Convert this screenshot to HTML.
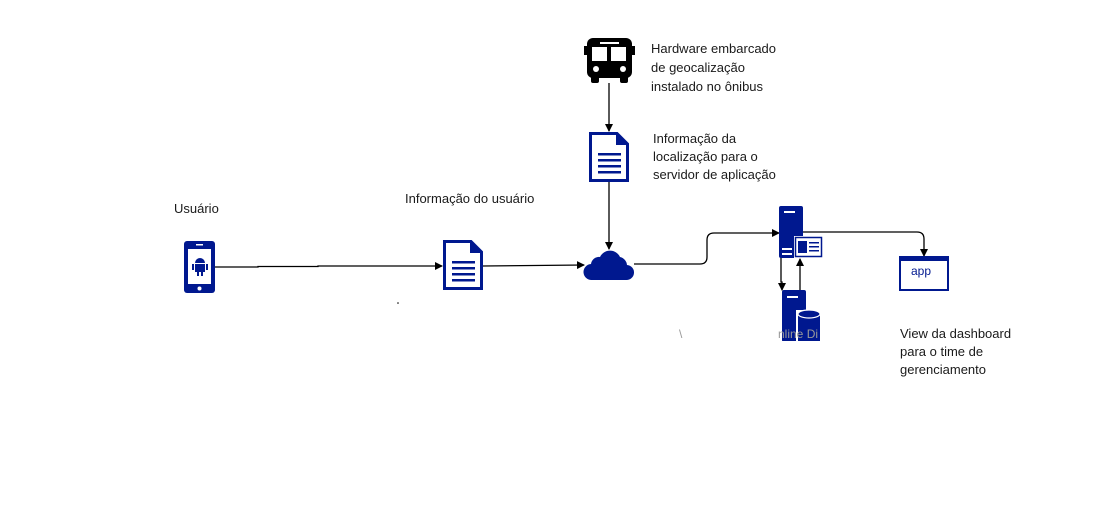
<!DOCTYPE html>
<html><head><meta charset="utf-8"><style>
html,body{margin:0;padding:0;background:#fff;}
svg{display:block;}
text{font-family:"Liberation Sans",sans-serif;font-size:13px;fill:#1a1a1a;}
</style></head><body>
<svg width="1105" height="509" viewBox="0 0 1105 509" xmlns="http://www.w3.org/2000/svg">
<defs>
<marker id="a" markerWidth="8" markerHeight="8" refX="7" refY="4" orient="auto" markerUnits="userSpaceOnUse"><path d="M0,0 L8,4 L0,8 Z" fill="#000"/></marker>
</defs>
<!-- connectors -->
<g stroke="#000" stroke-width="1.3" fill="none">
<path d="M215,267 L258,267 L258,266.5 L318,266.5 L318,266 L442,266" marker-end="url(#a)"/>
<path d="M483,266 L584,265" marker-end="url(#a)"/>
<path d="M609,83 L609,131" marker-end="url(#a)"/>
<path d="M609,182 L609,249" marker-end="url(#a)"/>
<path d="M634,264 L700,264 Q707,264 707,257 L707,240 Q707,233 714,233 L779,233" marker-end="url(#a)"/>
<path d="M803,232 L917,232 Q924,232 924,239 L924,256" marker-end="url(#a)"/>
<path d="M781,257 L781,282 L782,282 L782,290" marker-end="url(#a)"/>
<path d="M800,290 L800,259" marker-end="url(#a)"/>
</g>
<circle cx="398" cy="303" r="0.8" fill="#000"/>
<!-- phone -->
<rect x="184" y="241" width="31" height="52" rx="3" fill="#00188f"/>
<rect x="188" y="249" width="23" height="35" fill="#fff"/>
<rect x="196" y="244" width="7" height="1.5" fill="#fff"/>
<circle cx="199.5" cy="288.5" r="2" fill="#fff"/>
<path d="M195,263 a5,5 0 0 1 10,0 Z" fill="#00188f"/>
<rect x="195" y="264" width="10" height="8" fill="#00188f"/>
<rect x="192" y="264" width="2" height="6" fill="#00188f"/>
<rect x="206" y="264" width="2" height="6" fill="#00188f"/>
<rect x="197" y="272" width="2" height="4" fill="#00188f"/>
<rect x="201" y="272" width="2" height="4" fill="#00188f"/>
<!-- doc 1 -->
<g transform="translate(443,240)">
<path d="M1.5,1.5 L28,1.5 L38.5,12 L38.5,48.5 L1.5,48.5 Z" fill="#fff" stroke="#00188f" stroke-width="3"/>
<path d="M27,1.5 L39,13 L27,13 Z" fill="#00188f"/>
<g fill="#00188f"><rect x="9" y="21" width="23" height="2.5"/><rect x="9" y="27" width="23" height="2.5"/><rect x="9" y="33" width="23" height="2.5"/><rect x="9" y="39" width="23" height="2.5"/></g>
</g>
<!-- doc 2 -->
<g transform="translate(589,132)">
<path d="M1.5,1.5 L28,1.5 L38.5,12 L38.5,48.5 L1.5,48.5 Z" fill="#fff" stroke="#00188f" stroke-width="3"/>
<path d="M27,1.5 L39,13 L27,13 Z" fill="#00188f"/>
<g fill="#00188f"><rect x="9" y="21" width="23" height="2.5"/><rect x="9" y="27" width="23" height="2.5"/><rect x="9" y="33" width="23" height="2.5"/><rect x="9" y="39" width="23" height="2.5"/></g>
</g>
<!-- bus -->
<g fill="#000">
<rect x="587" y="38" width="45" height="40" rx="6"/>
<rect x="584" y="46" width="3" height="9"/><rect x="632" y="46" width="3" height="9"/>
<rect x="591" y="74" width="8" height="9" rx="2"/><rect x="620" y="74" width="8" height="9" rx="2"/>
</g>
<g fill="#fff">
<rect x="600" y="42" width="19" height="2"/>
<rect x="592" y="47" width="15" height="14"/><rect x="611" y="47" width="15" height="14"/>
<circle cx="596" cy="69" r="3"/><circle cx="623" cy="69" r="3"/>
</g>
<!-- cloud -->
<path d="M592,280 a8,8 0 0 1 -1,-16 a8,8 0 0 1 9,-7 a11,11 0 0 1 20,0 a9,9 0 0 1 7,8 a7.5,7.5 0 0 1 -1,15 Z" fill="#00188f"/>
<!-- server -->
<rect x="779" y="206" width="24" height="52" rx="2" fill="#00188f"/>
<rect x="784" y="211" width="11" height="2" fill="#fff"/>
<rect x="782" y="248" width="10" height="2" fill="#fff"/>
<rect x="782" y="253" width="10" height="2" fill="#fff"/>
<rect x="794" y="236" width="29" height="22" fill="#fff"/>
<rect x="795.5" y="237.5" width="26" height="19" fill="none" stroke="#00188f" stroke-width="1.5"/>
<rect x="798" y="241" width="9" height="12" fill="#00188f"/>
<rect x="809" y="242" width="10" height="1.5" fill="#00188f"/>
<rect x="809" y="246" width="10" height="1.5" fill="#00188f"/>
<rect x="809" y="250" width="10" height="1.5" fill="#00188f"/>
<!-- db server -->
<rect x="782" y="290" width="24" height="52" rx="2" fill="#00188f"/>
<rect x="787" y="296" width="11" height="2" fill="#fff"/>
<rect x="796" y="310" width="26" height="34" fill="#fff"/>
<rect x="798" y="314" width="22" height="28" fill="#00188f"/>
<ellipse cx="809" cy="314" rx="11" ry="4" fill="#00188f" stroke="#fff" stroke-width="1.2"/>
<rect x="0" y="341" width="1105" height="20" fill="#fff"/>
<text x="778" y="338" fill="#888" style="fill:#999;font-size:12px">nline Di</text>
<text x="679" y="338" style="fill:#999;font-size:12px">\</text>
<!-- app window -->
<rect x="900" y="257" width="48" height="33" fill="#fff" stroke="#00188f" stroke-width="2"/>
<rect x="900" y="257" width="48" height="4" fill="#00188f"/>
<text x="911" y="275" style="fill:#00188f;font-size:12px">app</text>
<!-- labels -->
<text x="174" y="213">Usuário</text>
<text x="405" y="203">Informação do usuário</text>
<text x="651" y="53">Hardware embarcado</text>
<text x="651" y="72">de geocalização</text>
<text x="651" y="91">instalado no ônibus</text>
<text x="653" y="143">Informação da</text>
<text x="653" y="161">localização para o</text>
<text x="653" y="179">servidor de aplicação</text>
<text x="900" y="338">View da dashboard</text>
<text x="900" y="356">para o time de</text>
<text x="900" y="374">gerenciamento</text>
</svg>
</body></html>
